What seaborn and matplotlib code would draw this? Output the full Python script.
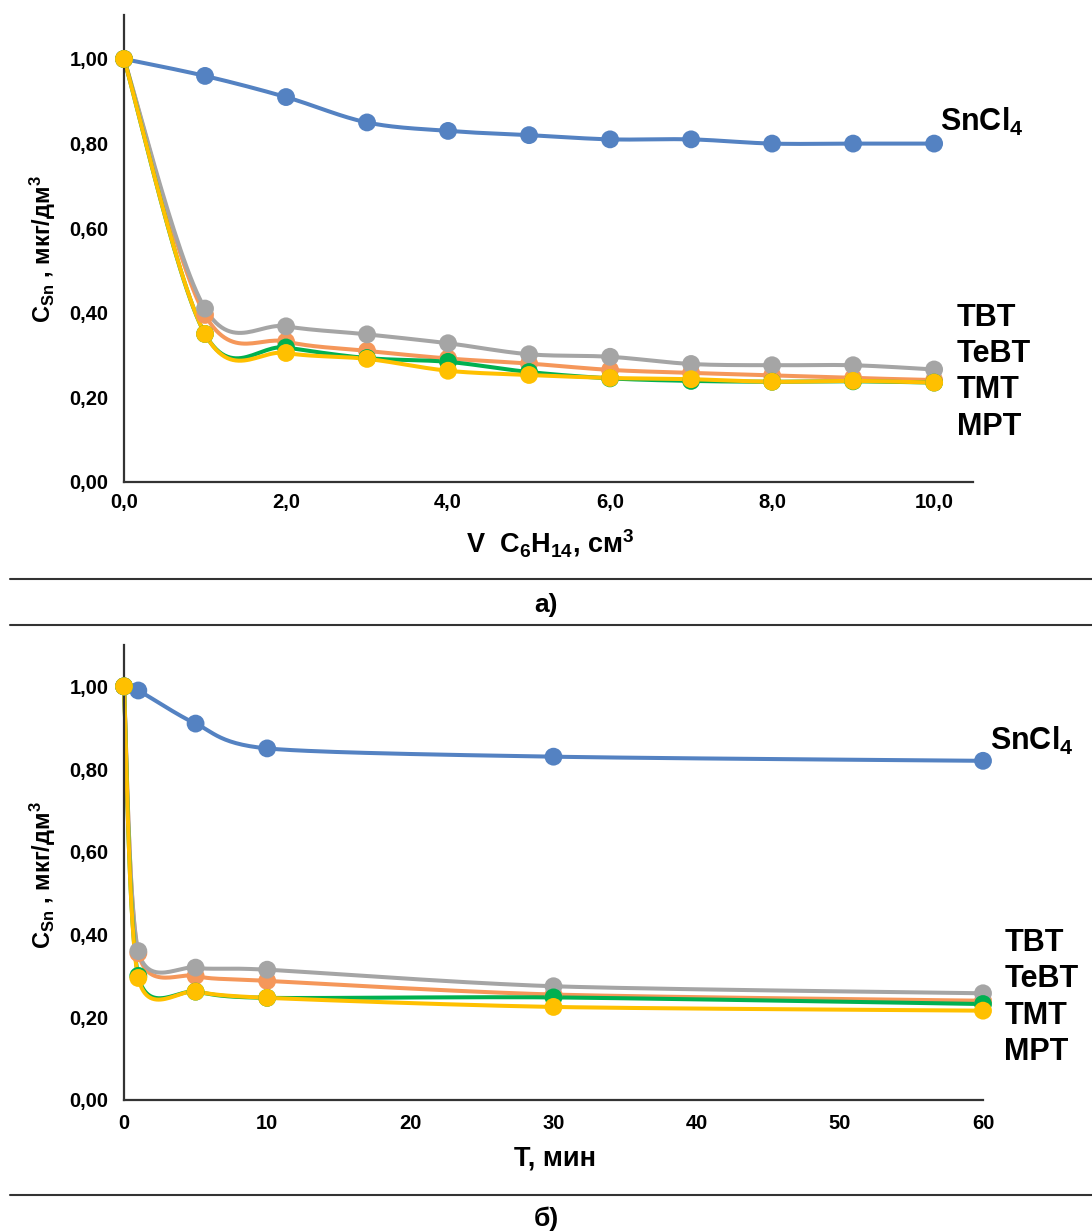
import numpy as np
import pandas as pd
import seaborn as sns
import matplotlib
matplotlib.use("Agg")
import matplotlib.pyplot as plt
from matplotlib.lines import Line2D
from matplotlib.ticker import FuncFormatter

# ---- data: panel a) extraction vs hexane volume ----
vol = [0, 1, 2, 3, 4, 5, 6, 7, 8, 9, 10]
a_sncl4 = [1.00, 0.96, 0.91, 0.85, 0.83, 0.82, 0.81, 0.81, 0.80, 0.80, 0.80]
a_tbt = [1.00, 0.41, 0.368, 0.349, 0.328, 0.302, 0.296, 0.279, 0.276, 0.276, 0.266]
a_tebt = [1.00, 0.395, 0.332, 0.31, 0.292, 0.28, 0.265, 0.258, 0.252, 0.246, 0.241]
a_tmt = [1.00, 0.35, 0.318, 0.293, 0.284, 0.26, 0.245, 0.239, 0.237, 0.238, 0.235]
a_mpt = [1.00, 0.35, 0.305, 0.291, 0.263, 0.253, 0.246, 0.243, 0.237, 0.239, 0.235]

# ---- data: panel б) extraction vs time ----
time_min = [0, 1, 5, 10, 30, 60]
b_sncl4 = [1.00, 0.99, 0.91, 0.85, 0.83, 0.82]
b_tbt = [1.00, 0.36, 0.32, 0.315, 0.275, 0.258]
b_tebt = [1.00, 0.355, 0.30, 0.288, 0.255, 0.24]
b_tmt = [1.00, 0.30, 0.262, 0.247, 0.248, 0.232]
b_mpt = [1.00, 0.295, 0.262, 0.247, 0.225, 0.216]

series_names = ["SnCl4", "TeBT", "TBT", "TMT", "MPT"]
colors = {"SnCl4": "#5482C2", "TeBT": "#F5975A", "TBT": "#A5A5A5",
          "TMT": "#00B050", "MPT": "#FFC000"}

label_a = ["TBT", "TeBT", "TMT", "MPT"]

sns.set_theme(style="white")
plt.rcParams["font.family"] = ["Liberation Sans", "DejaVu Sans"]
plt.rcParams["font.weight"] = "bold"
plt.rcParams["text.color"] = "black"
plt.rcParams["axes.labelcolor"] = "black"
plt.rcParams["xtick.color"] = "black"
plt.rcParams["ytick.color"] = "black"
plt.rcParams["mathtext.fontset"] = "custom"
plt.rcParams["mathtext.rm"] = "Liberation Sans:bold"
plt.rcParams["mathtext.it"] = "Liberation Sans:bold"
plt.rcParams["mathtext.bf"] = "Liberation Sans:bold"
plt.rcParams["mathtext.default"] = "rm"

W, H = 1092, 1231
fig = plt.figure(figsize=(W / 100, H / 100), dpi=100)


def smooth(x, y, sx, sy, n=30, k=6.0):
    """Parametric Catmull-Rom (Bezier) smoothing computed in screen-like units."""
    p = np.column_stack([np.asarray(x, float) * sx, np.asarray(y, float) * sy])
    pts = np.vstack([p[0], p, p[-1]])
    out = []
    t = np.linspace(0, 1, n)
    for i in range(1, len(pts) - 2):
        p0, p1, p2, p3 = pts[i - 1], pts[i], pts[i + 1], pts[i + 2]
        c1 = p1 + (p2 - p0) / k
        c2 = p2 - (p3 - p1) / k
        seg = ((1 - t) ** 3)[:, None] * p1 + (3 * (1 - t) ** 2 * t)[:, None] * c1 \
            + (3 * (1 - t) * t ** 2)[:, None] * c2 + (t ** 3)[:, None] * p2
        out.append(seg if i == 1 else seg[1:])
    c = np.vstack(out)
    return c[:, 0] / sx, c[:, 1] / sy


def draw_panel(ax, x, data, sx, sy, k):
    for name in series_names:
        y = data[name]
        xs, ys = smooth(x, y, sx, sy, k=k)
        sns.lineplot(x=xs, y=ys, sort=False, estimator=None, ax=ax,
                     color=colors[name], linewidth=2.9, zorder=2, clip_on=False)
        sns.scatterplot(x=x, y=y, ax=ax, color=colors[name], s=165,
                        edgecolor="none", zorder=3, clip_on=False)


def style_axes(ax):
    for side in ["top", "right"]:
        ax.spines[side].set_visible(False)
    for side in ["left", "bottom"]:
        ax.spines[side].set_color("#333333")
        ax.spines[side].set_linewidth(1.6)
    ax.tick_params(axis="both", direction="in", length=6, width=1.5,
                   color="#333333", labelsize=14.5, labelcolor="black")
    ax.yaxis.set_major_formatter(FuncFormatter(lambda v, p: f"{v:.2f}".replace(".", ",")))
    ax.set_yticks([0, 0.2, 0.4, 0.6, 0.8, 1.0])
    ax.set_xlabel("")
    ax.set_ylabel("")


def bold_ticks(ax):
    for lab in ax.get_xticklabels() + ax.get_yticklabels():
        lab.set_fontweight("bold")


# ---- panel a) ----
ax1 = fig.add_axes([124 / W, 1 - 482 / H, (973 - 124) / W, (482 - 15) / H])
data_a = {"SnCl4": a_sncl4, "TBT": a_tbt, "TeBT": a_tebt, "TMT": a_tmt, "MPT": a_mpt}
draw_panel(ax1, vol, data_a, 81.0, 423.0, k=6.0)
ax1.set_xlim(0, 10.48)
ax1.set_ylim(0, 1.104)
ax1.set_xticks([0, 2, 4, 6, 8, 10])
style_axes(ax1)
ax1.xaxis.set_major_formatter(FuncFormatter(lambda v, p: f"{v:.1f}".replace(".", ",")))
ax1.tick_params(axis="x", pad=8)
ax1.tick_params(axis="y", pad=11)
bold_ticks(ax1)

ax1.text(10.07, 0.851, "SnCl$_4$", fontsize=22, fontweight="bold",
         ha="left", va="center", clip_on=False)
for lab, yv in zip(label_a, [0.388, 0.303, 0.217, 0.130]):
    ax1.text(10.28, yv, lab, fontsize=22, fontweight="bold",
             ha="left", va="center", clip_on=False)

# ---- panel б) ----
ax2 = fig.add_axes([124 / W, 1 - 1100 / H, (983 - 124) / W, (1100 - 645) / H])
data_b = {"SnCl4": b_sncl4, "TBT": b_tbt, "TeBT": b_tebt, "TMT": b_tmt, "MPT": b_mpt}
draw_panel(ax2, time_min, data_b, 14.32, 413.0, k=7.5)
ax2.set_xlim(0, 60)
ax2.set_ylim(0, 1.10)
ax2.set_xticks([0, 10, 20, 30, 40, 50, 60])
style_axes(ax2)
ax2.xaxis.set_major_formatter(FuncFormatter(lambda v, p: f"{v:.0f}"))
ax2.tick_params(axis="x", pad=10)
ax2.tick_params(axis="y", pad=11)
bold_ticks(ax2)

ax2.text(60.5, 0.867, "SnCl$_4$", fontsize=22, fontweight="bold",
         ha="left", va="center", clip_on=False)
for lab, yv in zip(label_a, [0.380, 0.293, 0.203, 0.116]):
    ax2.text(61.5, yv, lab, fontsize=22, fontweight="bold",
             ha="left", va="center", clip_on=False)

# ---- axis titles ----
ylab = "C$_{Sn}$ , мкг/дм$^3$"
fig.text(43 / W, 1 - 249 / H, ylab, rotation=90, fontsize=17, fontweight="bold",
         ha="center", va="center")
fig.text(43 / W, 1 - 875 / H, ylab, rotation=90, fontsize=17, fontweight="bold",
         ha="center", va="center")
fig.text(550 / W, 1 - 543 / H, "V  C$_6$H$_{14}$, см$^3$", fontsize=19.5,
         fontweight="bold", ha="center", va="center")
fig.text(555 / W, 1 - 1158 / H, "Т, мин", fontsize=19.5, fontweight="bold",
         ha="center", va="center")

# ---- panel captions and separators ----
fig.text(546 / W, 1 - 605 / H, "а)", fontsize=19, fontweight="bold",
         ha="center", va="center")
fig.text(546 / W, 1 - 1219 / H, "б)", fontsize=19, fontweight="bold",
         ha="center", va="center")
for yy in [579, 625, 1195]:
    fig.add_artist(Line2D([10 / W, 1.0], [1 - yy / H, 1 - yy / H],
                          color="#333333", linewidth=1.5))

fig.savefig("out.png", dpi=100)
